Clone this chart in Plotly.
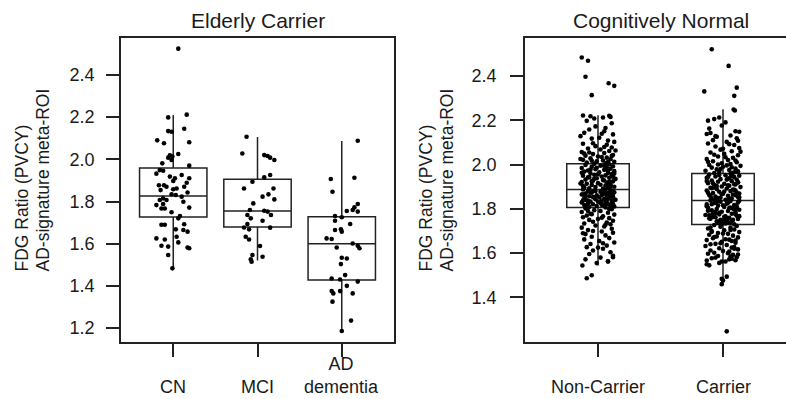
import plotly.graph_objects as go

# ---------------- data ----------------
LEFT_TITLE = "Elderly Carrier"
RIGHT_TITLE = "Cognitively Normal"
Y_TITLE_LINES = ["FDG Ratio (PVCY)", "AD-signature meta-ROI"]

LEFT_CATS = ["CN", "MCI", "AD<br>dementia"]
RIGHT_CATS = ["Non-Carrier", "Carrier"]

LEFT_TICKS = [1.2, 1.4, 1.6, 1.8, 2.0, 2.2, 2.4]
RIGHT_TICKS = [1.4, 1.6, 1.8, 2.0, 2.2, 2.4]

# box statistics
LEFT_Q1 = [1.726, 1.679, 1.428]
LEFT_MED = [1.826, 1.755, 1.600]
LEFT_Q3 = [1.959, 1.905, 1.728]
LEFT_LO = [1.483, 1.520, 1.186]
LEFT_HI = [2.210, 2.106, 2.087]

RIGHT_Q1 = [1.806, 1.729]
RIGHT_MED = [1.887, 1.838]
RIGHT_Q3 = [2.004, 1.960]
RIGHT_LO = [1.544, 1.460]
RIGHT_HI = [2.222, 2.250]

# jittered points: value and horizontal jitter (category units)
CN_Y = [2.525, 2.199, 2.212, 2.131, 2.134, 2.145, 2.090, 2.076, 2.081, 2.025,
        2.019, 2.013, 2.008, 1.997, 1.981, 1.970, 1.949, 1.946, 1.932, 1.926,
        1.910, 1.910, 1.897, 1.889, 1.877, 1.877, 1.862, 1.858, 1.870, 1.854,
        1.843, 1.834, 1.831, 1.823, 1.815, 1.807, 1.799, 1.783, 1.788, 1.767,
        1.767, 1.771, 1.749, 1.731, 1.690, 1.690, 1.692, 1.668, 1.665, 1.657,
        1.625, 1.620, 1.633, 1.606, 1.590, 1.586, 1.582, 1.578, 1.546, 1.483,
        1.918, 1.870, 1.807, 1.720]
CN_DX = [0.06, -0.06, 0.16, -0.02, -0.06, 0.13, -0.19, -0.11, 0.19, 0.06,
         -0.04, -0.01, -0.06, -0.02, -0.13, 0.19, -0.16, -0.12, -0.20, 0.10,
         0.02, 0.19, 0.00, 0.16, -0.17, -0.11, 0.04, 0.00, -0.08, -0.15,
         0.17, -0.02, 0.03, 0.10, -0.12, -0.08, 0.12, -0.20, -0.12, -0.14,
         -0.10, 0.19, -0.02, 0.08, -0.14, -0.10, 0.13, 0.03, 0.12, 0.17,
         -0.20, -0.10, 0.04, 0.06, -0.14, -0.06, 0.17, 0.19, -0.06, -0.01,
         -0.04, 0.13, -0.16, 0.06]

MCI_Y = [2.107, 2.028, 2.020, 2.016, 2.008, 1.997, 1.926, 1.915, 1.894, 1.862,
         1.862, 1.834, 1.823, 1.810, 1.791, 1.760, 1.756, 1.752, 1.736, 1.736,
         1.720, 1.709, 1.693, 1.677, 1.676, 1.668, 1.633, 1.620, 1.589, 1.546,
         1.526, 1.538, 1.514]
MCI_DX = [-0.13, -0.18, 0.08, 0.12, 0.15, 0.20, 0.15, 0.08, -0.06, -0.16,
          0.19, 0.13, 0.06, 0.20, -0.05, -0.09, 0.08, 0.12, 0.16, -0.12,
          -0.08, 0.06, -0.12, -0.16, 0.15, -0.10, -0.14, -0.10, 0.03, -0.06,
          -0.08, 0.06, -0.07]

AD_Y = [2.088, 1.907, 1.913, 1.846, 1.788, 1.772, 1.760, 1.755, 1.752, 1.731,
        1.725, 1.693, 1.709, 1.668, 1.665, 1.657, 1.625, 1.622, 1.601, 1.590,
        1.578, 1.582, 1.533, 1.530, 1.503, 1.451, 1.435, 1.430, 1.420, 1.375,
        1.375, 1.400, 1.364, 1.364, 1.325, 1.235, 1.186]
AD_DX = [0.19, -0.13, 0.15, -0.11, 0.19, 0.15, 0.13, 0.06, 0.19, -0.08,
         0.00, 0.10, -0.08, -0.01, -0.08, 0.00, -0.18, -0.12, 0.13, 0.19,
         0.21, -0.06, 0.00, 0.06, -0.01, 0.04, -0.12, -0.02, 0.19, -0.12,
         -0.02, 0.06, -0.10, 0.13, -0.11, 0.11, 0.00]

NC_Y = [2.483, 2.468, 2.396, 2.313, 2.367, 2.355, 2.221, 2.218, 2.212, 2.220,
        2.208, 2.215, 2.197, 2.172, 2.165, 2.158, 2.150, 2.143, 2.136, 2.128,
        2.121, 2.117, 2.108, 2.102, 2.186, 2.139, 2.094, 2.089, 2.083, 2.077,
        2.072, 2.068, 2.061, 2.056, 2.052, 2.047, 2.043, 2.040, 2.036, 2.031,
        2.028, 2.024, 2.021, 2.018, 2.015, 2.012, 2.009, 2.006, 2.003, 2.001,
        2.063, 2.049, 2.034, 2.025, 2.011, 2.079, 2.096, 2.054, 2.039, 2.017,
        1.998, 1.995, 1.992, 1.990, 1.987, 1.984, 1.981, 1.979, 1.976, 1.973,
        1.970, 1.968, 1.965, 1.962, 1.960, 1.957, 1.954, 1.951, 1.949, 1.946,
        1.943, 1.940, 1.938, 1.935, 1.932, 1.930, 1.927, 1.924, 1.921, 1.919,
        1.916, 1.913, 1.911, 1.908, 1.905, 1.903, 1.900, 1.898, 1.896, 1.893,
        1.891, 1.994, 1.977, 1.963, 1.948, 1.936, 1.922, 1.909, 1.897, 1.985,
        1.971, 1.956, 1.942, 1.928, 1.914, 1.901, 1.959, 1.945, 1.925, 1.907,
        1.887, 1.885, 1.883, 1.881, 1.879, 1.877, 1.875, 1.873, 1.871, 1.869,
        1.867, 1.865, 1.863, 1.861, 1.859, 1.857, 1.855, 1.853, 1.851, 1.849,
        1.847, 1.845, 1.843, 1.841, 1.839, 1.837, 1.835, 1.833, 1.831, 1.829,
        1.827, 1.825, 1.823, 1.821, 1.819, 1.817, 1.815, 1.813, 1.811, 1.809,
        1.884, 1.876, 1.868, 1.858, 1.846, 1.838, 1.828, 1.818, 1.880, 1.862,
        1.852, 1.842, 1.832, 1.822, 1.812, 1.872, 1.856, 1.836, 1.816, 1.866,
        1.806, 1.802, 1.798, 1.794, 1.790, 1.786, 1.782, 1.778, 1.774, 1.770,
        1.766, 1.762, 1.758, 1.754, 1.750, 1.746, 1.742, 1.738, 1.734, 1.730,
        1.725, 1.720, 1.715, 1.710, 1.704, 1.698, 1.692, 1.686, 1.680, 1.674,
        1.668, 1.662, 1.655, 1.648, 1.641, 1.634, 1.627, 1.620, 1.612, 1.604,
        1.596, 1.588, 1.580, 1.572, 1.563, 1.555, 1.544, 1.487, 1.500, 1.562,
        1.582, 1.700, 1.760, 1.790, 1.645, 1.728, 1.776, 1.690, 1.625, 1.799]
NC_DX = [-0.13, -0.08, -0.10, -0.05, 0.085, 0.13, -0.12, -0.06, 0.04, 0.09,
         -0.03, 0.10, -0.09, -0.02, 0.06, -0.07, 0.05, -0.11, 0.12, -0.14,
         0.01, -0.05, 0.08, 0.13, 0.11, 0.03, -0.12, 0.07, -0.02, 0.11,
         -0.08, 0.02, 0.09, -0.13, 0.05, -0.04, 0.12, -0.10, 0.00, 0.07,
         -0.06, 0.10, -0.12, 0.04, -0.01, 0.13, -0.09, 0.06, -0.03, 0.09,
         0.14, -0.11, 0.03, -0.14, 0.08, 0.05, -0.04, -0.07, 0.11, -0.05,
         -0.10, 0.02, 0.12, -0.05, 0.07, -0.13, 0.10, -0.02, 0.05, -0.08,
         0.13, -0.11, 0.01, 0.08, -0.06, 0.11, -0.03, 0.06, -0.12, 0.03,
         -0.07, 0.09, -0.01, 0.14, -0.10, 0.04, -0.04, 0.12, -0.13, 0.07,
         0.00, -0.09, 0.10, -0.05, 0.06, -0.12, 0.13, -0.02, 0.08, -0.07,
         0.04, 0.05, -0.06, -0.13, 0.11, -0.03, 0.09, 0.02, -0.11, -0.01,
         0.08, 0.00, -0.08, 0.05, -0.14, 0.10, 0.13, 0.12, -0.05, 0.07,
         -0.12, 0.06, -0.03, 0.11, -0.08, 0.02, 0.13, -0.05, 0.08, -0.10,
         0.04, -0.13, 0.10, -0.01, 0.07, -0.07, 0.12, -0.04, 0.01, 0.09,
         -0.11, 0.05, -0.02, 0.14, -0.09, 0.03, 0.11, -0.06, 0.07, -0.13,
         0.02, -0.08, 0.12, -0.04, 0.09, -0.11, 0.05, -0.01, 0.13, -0.07,
         0.10, -0.06, 0.12, -0.10, 0.08, -0.12, 0.06, 0.03, -0.02, 0.03,
         -0.03, 0.13, 0.00, 0.07, -0.09, 0.05, 0.11, -0.08, 0.10, -0.12,
         0.06, -0.10, 0.11, -0.03, 0.02, -0.13, 0.08, -0.06, 0.13, -0.09,
         0.04, -0.12, 0.09, 0.00, -0.07, 0.12, -0.04, 0.07, -0.11, 0.10,
         -0.02, 0.05, -0.13, 0.11, -0.08, 0.03, 0.12, -0.10, 0.06, -0.05,
         0.09, -0.11, 0.01, 0.13, -0.06, 0.07, -0.09, 0.04, -0.04, 0.10,
         -0.07, 0.12, 0.02, -0.10, 0.08, -0.01, -0.125, -0.09, -0.05, 0.08,
         0.12, -0.04, 0.03, -0.08, 0.04, 0.06, -0.05, -0.12, 0.00, 0.09]

CA_Y = [2.520, 2.445, 2.330, 2.347, 2.310, 2.248, 2.244, 2.212, 2.205, 2.198,
        2.190, 2.176, 2.150, 2.148, 2.142, 2.138, 2.131, 2.125, 2.118, 2.110,
        2.102, 2.095, 2.088, 2.081, 2.074, 2.067, 2.060, 2.054, 2.048, 2.042,
        2.036, 2.030, 2.025, 2.020, 2.015, 2.010, 2.006, 2.002, 1.998, 1.994,
        1.990, 1.986, 1.982, 1.978, 1.975, 1.972, 1.969, 1.966, 1.963, 1.961,
        2.162, 2.107, 2.071, 2.044, 2.018, 1.996, 1.980, 2.058, 2.128, 2.092,
        2.012, 1.988, 2.033, 1.970, 2.000,
        1.958, 1.955, 1.952, 1.949, 1.946, 1.943, 1.940, 1.937, 1.934, 1.931,
        1.928, 1.925, 1.922, 1.919, 1.916, 1.913, 1.910, 1.907, 1.904, 1.901,
        1.898, 1.895, 1.892, 1.889, 1.886, 1.883, 1.880, 1.877, 1.874, 1.871,
        1.868, 1.865, 1.862, 1.859, 1.856, 1.853, 1.850, 1.847, 1.844, 1.841,
        1.953, 1.938, 1.926, 1.911, 1.896, 1.882, 1.869, 1.857, 1.845, 1.944,
        1.920, 1.903, 1.887, 1.873, 1.861, 1.849, 1.932, 1.915, 1.878, 1.852,
        1.906, 1.893, 1.866, 1.843, 1.948,
        1.838, 1.835, 1.832, 1.829, 1.826, 1.823, 1.820, 1.817, 1.814, 1.811,
        1.808, 1.805, 1.802, 1.799, 1.796, 1.793, 1.790, 1.787, 1.784, 1.781,
        1.778, 1.775, 1.772, 1.769, 1.766, 1.763, 1.760, 1.757, 1.754, 1.751,
        1.748, 1.746, 1.744, 1.742, 1.740, 1.738, 1.736, 1.734, 1.732, 1.730,
        1.836, 1.821, 1.806, 1.791, 1.776, 1.762, 1.750, 1.827, 1.812, 1.797,
        1.782, 1.767, 1.755, 1.816, 1.800, 1.786, 1.771, 1.758, 1.745, 1.830,
        1.803, 1.779, 1.764, 1.743, 1.739,
        1.727, 1.723, 1.719, 1.715, 1.711, 1.707, 1.703, 1.699, 1.695, 1.691,
        1.687, 1.683, 1.679, 1.675, 1.671, 1.667, 1.663, 1.659, 1.655, 1.651,
        1.647, 1.642, 1.637, 1.632, 1.627, 1.622, 1.617, 1.612, 1.607, 1.602,
        1.597, 1.592, 1.587, 1.582, 1.577, 1.572, 1.567, 1.562, 1.556, 1.550,
        1.545, 1.562, 1.575, 1.585, 1.494, 1.484, 1.460, 1.477, 1.247, 1.716,
        1.705, 1.689, 1.673, 1.657, 1.640, 1.625, 1.610, 1.594, 1.580, 1.568,
        1.697, 1.661, 1.645, 1.620, 1.600]
CA_DX = [-0.09, 0.045, -0.15, 0.11, 0.09, 0.085, 0.095, -0.03, -0.07, -0.12,
         0.02, -0.01, 0.10, 0.13, -0.10, -0.13, 0.06, -0.05, 0.11, -0.08,
         0.03, -0.12, 0.09, -0.06, 0.13, -0.02, 0.07, -0.10, 0.01, 0.12,
         -0.04, 0.08, -0.13, 0.04, -0.08, 0.11, -0.01, 0.06, -0.11, 0.14,
         0.00, -0.09, 0.10, -0.05, 0.05, -0.14, 0.12, -0.03, 0.08, -0.07,
         -0.11, 0.12, 0.00, -0.07, 0.10, 0.03, -0.02, 0.14, -0.06, 0.05,
         -0.12, 0.07, 0.02, 0.10, -0.04,
         0.06, -0.11, 0.02, 0.13, -0.06, 0.09, -0.13, 0.04, -0.02, 0.11,
         -0.09, 0.07, -0.04, 0.12, -0.12, 0.01, 0.10, -0.07, 0.05, -0.01,
         0.14, -0.10, 0.03, -0.05, 0.09, -0.13, 0.06, -0.03, 0.11, -0.08,
         0.00, 0.08, -0.11, 0.04, -0.06, 0.12, -0.02, 0.07, -0.09, 0.02,
         -0.03, 0.05, -0.13, 0.09, -0.07, 0.10, 0.13, -0.10, 0.05, -0.12,
         0.12, -0.05, 0.08, -0.12, 0.10, -0.04, 0.03, -0.08, 0.01, 0.13,
         0.04, -0.09, -0.01, -0.06, 0.07,
         -0.10, 0.06, -0.02, 0.12, -0.07, 0.03, -0.13, 0.09, -0.04, 0.11,
         0.01, -0.12, 0.08, -0.05, 0.13, -0.09, 0.04, -0.01, 0.10, -0.06,
         0.07, -0.03, -0.14, 0.11, 0.02, -0.08, 0.05, -0.11, 0.12, -0.02,
         0.00, 0.03, -0.05, 0.01, -0.02, 0.06, -0.04, 0.02, -0.01, 0.09,
         0.13, -0.09, 0.06, -0.12, 0.10, -0.06, 0.08, 0.04, -0.13, 0.09,
         -0.03, 0.13, -0.10, 0.00, 0.11, -0.07, -0.11, 0.03, 0.07, -0.05,
         0.05, -0.08, 0.01, -0.03, 0.04,
         -0.07, 0.11, -0.02, 0.06, -0.12, 0.09, 0.01, -0.09, 0.13, -0.04,
         0.04, -0.11, 0.08, -0.05, 0.12, -0.08, 0.02, -0.13, 0.07, -0.01,
         0.10, -0.06, 0.03, -0.14, 0.09, -0.03, 0.12, -0.10, 0.05, -0.07,
         -0.12, 0.08, -0.04, 0.11, -0.09, 0.05, -0.13, 0.02, -0.03, -0.13,
         -0.11, -0.01, 0.07, 0.06, 0.03, -0.01, -0.01, 0.00, 0.03, -0.10,
         0.06, 0.00, -0.07, 0.10, -0.10, 0.07, 0.00, 0.12, -0.06, 0.10,
         -0.09, 0.05, -0.02, 0.09, 0.04]

# ---------------- styling / layout ----------------
W, H = 786, 399
FONT = "Liberation Sans, Arial, Helvetica, sans-serif"
TXT = "#1a1a1a"
LINE = "#222222"

LX0, LX1 = 121, 394      # left panel frame (px)
RX0 = 525                # right panel left edge (px)
TOP, BOT = 38, 342       # frames top / bottom (px)


def fx(p):
    return p / W


def fy(p):
    return 1 - p / H


left_points = [(CN_Y, CN_DX), (MCI_Y, MCI_DX), (AD_Y, AD_DX)]
right_points = [(NC_Y, NC_DX), (CA_Y, CA_DX)]

fig = go.Figure()

box_style = dict(line=dict(color=LINE, width=1.5), fillcolor="rgba(0,0,0,0)",
                 whiskerwidth=0, boxpoints=False, showlegend=False,
                 hoverinfo="skip")

for i in range(len(LEFT_CATS)):
    fig.add_trace(go.Box(x=[i + 1], q1=[LEFT_Q1[i]], median=[LEFT_MED[i]],
                         q3=[LEFT_Q3[i]], lowerfence=[LEFT_LO[i]],
                         upperfence=[LEFT_HI[i]], width=0.8,
                         xaxis="x", yaxis="y", **box_style))
for i in range(len(RIGHT_CATS)):
    fig.add_trace(go.Box(x=[i + 1], q1=[RIGHT_Q1[i]], median=[RIGHT_MED[i]],
                         q3=[RIGHT_Q3[i]], lowerfence=[RIGHT_LO[i]],
                         upperfence=[RIGHT_HI[i]], width=0.5,
                         xaxis="x2", yaxis="y2", **box_style))

mk = dict(color="#000000", size=4.6, line=dict(width=0))
for i, (ys, dxs) in enumerate(left_points):
    fig.add_trace(go.Scatter(x=[i + 1 + d for d in dxs], y=ys, mode="markers",
                             marker=mk, xaxis="x", yaxis="y",
                             showlegend=False, hoverinfo="skip"))
for i, (ys, dxs) in enumerate(right_points):
    fig.add_trace(go.Scatter(x=[i + 1 + d for d in dxs], y=ys, mode="markers",
                             marker=mk, xaxis="x2", yaxis="y2",
                             showlegend=False, hoverinfo="skip"))

axis_common = dict(showgrid=False, zeroline=False, showline=True,
                   linecolor=LINE, linewidth=1.5, ticks="outside",
                   ticklen=13, tickwidth=1.5, tickcolor=LINE,
                   tickfont=dict(family=FONT, size=18, color=TXT))

ydom = [fy(BOT), fy(TOP)]
fig.update_layout(
    width=W, height=H,
    margin=dict(l=0, r=0, t=0, b=0),
    paper_bgcolor="white", plot_bgcolor="white",
    boxmode="overlay",
    xaxis=dict(domain=[fx(LX0), fx(LX1)], range=[0.38, 3.62],
               tickvals=[1, 2, 3], showticklabels=False, mirror=True,
               **axis_common),
    yaxis=dict(domain=ydom, range=[1.1336, 2.5755], tickvals=LEFT_TICKS,
               ticktext=[f"{v:.1f}" for v in LEFT_TICKS], mirror=True,
               ticklabelstandoff=8, **axis_common),
    xaxis2=dict(domain=[fx(RX0), 1.0], range=[0.416, 2.504],
                tickvals=[1, 2], showticklabels=False, mirror=True,
                anchor="y2", **axis_common),
    yaxis2=dict(domain=ydom, range=[1.199, 2.571], tickvals=RIGHT_TICKS,
                ticktext=[f"{v:.1f}" for v in RIGHT_TICKS], mirror=False,
                anchor="x2", ticklabelstandoff=10, **axis_common),
)

ann = []
# panel titles
ann.append(dict(text=LEFT_TITLE, x=fx((LX0 + LX1) / 2), y=fy(20.6),
                xref="paper", yref="paper", showarrow=False,
                xanchor="center", yanchor="middle",
                font=dict(family=FONT, size=21, color=TXT)))
ann.append(dict(text=RIGHT_TITLE, x=fx(661), y=fy(20.6),
                xref="paper", yref="paper", showarrow=False,
                xanchor="center", yanchor="middle",
                font=dict(family=FONT, size=21, color=TXT)))
# y-axis titles (two lines, bottom aligned)
for x0 in (LX0, RX0):
    for k, line in enumerate(Y_TITLE_LINES):
        ann.append(dict(text=line, x=fx(x0 - 100 + 21 * k), y=fy(274),
                        xref="paper", yref="paper", showarrow=False,
                        textangle=-90, xanchor="center", yanchor="bottom",
                        font=dict(family=FONT, size=17.5, color=TXT)))
# category labels (bottom aligned like R's multi-line axis labels)
for cats, xref in ((LEFT_CATS, "x"), (RIGHT_CATS, "x2")):
    for i, c in enumerate(cats):
        n = c.count("<br>") + 1
        ann.append(dict(text=c, x=i + 1, y=fy(386.7 - (n - 1) * 11.7),
                        xref=xref, yref="paper", showarrow=False,
                        xanchor="center", yanchor="middle",
                        font=dict(family=FONT, size=18, color=TXT)))
fig.update_layout(annotations=ann)

fig.write_html("out.html")
